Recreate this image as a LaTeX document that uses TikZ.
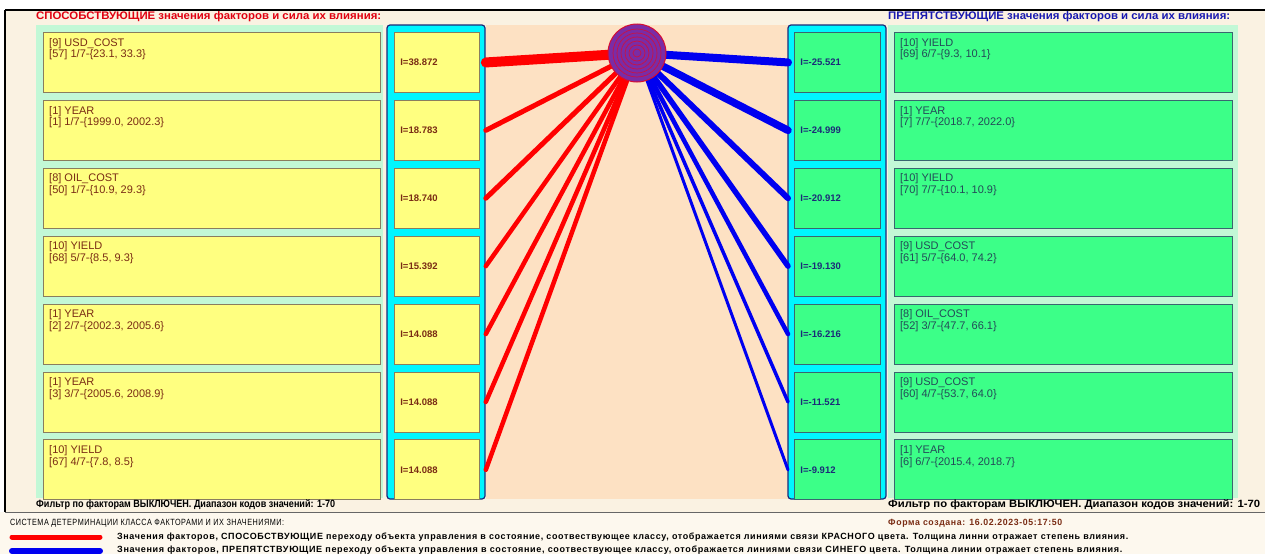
\documentclass[tikz,border=0pt]{standalone}
\usepackage{graphicx}
\usepackage{fontspec}
\setmainfont{Liberation Sans}
\newfontfamily\legfont[FakeStretch=0.85, LetterSpace=6]{Liberation Sans}
\usetikzlibrary{positioning}

\definecolor{creambg}{HTML}{FAF2E2}
\definecolor{footbg}{HTML}{FDF8EE}
\definecolor{mintbg}{HTML}{C2F8D6}
\definecolor{peachbg}{HTML}{FDE1C3}
\definecolor{cyanbox}{HTML}{00F6FF}
\definecolor{navyline}{HTML}{1C2A78}
\definecolor{yelbox}{HTML}{FFFF80}
\definecolor{grnbox}{HTML}{3CFF88}
\definecolor{yelline}{HTML}{8A7D5E}
\definecolor{grnline}{HTML}{3A6670}
\definecolor{maroontxt}{HTML}{7A2C14}
\definecolor{tealtxt}{HTML}{244A58}
\definecolor{linkred}{HTML}{FF0000}
\definecolor{linkblue}{HTML}{0000F0}
\definecolor{hdrred}{HTML}{E00010}
\definecolor{hdrblue}{HTML}{1818B0}
\definecolor{clspurple}{HTML}{7A2CA6}

% stretch a text to a given width, height kept
\newcommand{\fitw}[2]{\resizebox{#1}{\height}{#2}}

\tikzset{
  fac/.style={rectangle, draw, line width=0.9pt, minimum width=337pt,
              minimum height=60pt, inner sep=0pt},
  facY/.style={fac, fill=yelbox, draw=yelline},
  facG/.style={fac, fill=grnbox, draw=grnline, minimum width=338pt},
  ftxt/.style={anchor=north west, align=left, inner sep=0pt, xshift=6pt,
               yshift=-6pt, font=\fontsize{11}{11.5}\selectfont},
  ftxtY/.style={ftxt, text=maroontxt},
  ftxtG/.style={ftxt, text=tealtxt},
  val/.style={rectangle, draw, line width=0.9pt, minimum height=60pt,
              text width=73pt, inner xsep=6pt, align=left,
              font=\fontsize{9.5}{10}\selectfont\bfseries},
  valY/.style={val, fill=yelbox, draw=yelline, text=maroontxt},
  valG/.style={val, fill=grnbox, draw=grnline, text=navyline, text width=74pt},
  panel/.style={fill=cyanbox, draw=navyline, line width=1.2pt, rounded corners=3pt},
  redlink/.style={draw=linkred, line cap=round},
  bluelink/.style={draw=linkblue, line cap=round},
  hdr/.style={anchor=west, inner sep=0pt, font=\fontsize{11}{12}\selectfont\bfseries},
  filt/.style={anchor=west, inner sep=0pt, font=\fontsize{10.5}{12}\selectfont\bfseries},
  legtxt/.style={anchor=west, inner sep=0pt, font=\legfont\fontsize{9}{10}\selectfont\bfseries},
}

\begin{document}
\begin{tikzpicture}[x=1pt, y=-1pt]
  \useasboundingbox (0,0) rectangle (1265,554);

  % window background
  \fill[white] (0,0) rectangle (1265,554);
  \fill[creambg] (5,10) rectangle (1265,512);
  \fill[footbg] (0,512) rectangle (1265,554);
  \draw[line width=2pt] (5,10) -- (1265,10);
  \draw[line width=2pt] (5,10) -- (5,512);
  \draw[black!60, line width=1.2pt] (5,512.5) -- (1265,512.5);

  % panels
  \fill[mintbg] (36,25) rectangle (383,498);
  \fill[mintbg] (888,25) rectangle (1238,498);
  \fill[peachbg] (486,25) rectangle (788,499);
  \draw[panel] (387,25) rectangle (485,499);
  \draw[panel] (788,25) rectangle (886,499);

  \node[hdr, text=hdrred] (hdrL) at (36,17)
    {\fitw{345pt}{СПОСОБСТВУЮЩИЕ значения факторов и сила их влияния:}};
  \node[hdr, text=hdrblue] (hdrR) at (888,17)
    {\fitw{342pt}{ПРЕПЯТСТВУЮЩИЕ значения факторов и сила их влияния:}};

  % promoting values
  \node[facY, anchor=north west] (L1) at (43,32) {};
  \node[facY, below=7pt of L1] (L2) {};
  \node[facY, below=7pt of L2] (L3) {};
  \node[facY, below=7pt of L3] (L4) {};
  \node[facY, below=7pt of L4] (L5) {};
  \node[facY, below=7pt of L5] (L6) {};
  \node[facY, below=7pt of L6] (L7) {};

  \node[ftxtY] at (L1.north west) {[9] USD\_COST\\{}[57] 1/7-\{23.1, 33.3\}};
  \node[ftxtY] at (L2.north west) {[1] YEAR\\{}[1] 1/7-\{1999.0, 2002.3\}};
  \node[ftxtY] at (L3.north west) {[8] OIL\_COST\\{}[50] 1/7-\{10.9, 29.3\}};
  \node[ftxtY] at (L4.north west) {[10] YIELD\\{}[68] 5/7-\{8.5, 9.3\}};
  \node[ftxtY] at (L5.north west) {[1] YEAR\\{}[2] 2/7-\{2002.3, 2005.6\}};
  \node[ftxtY] at (L6.north west) {[1] YEAR\\{}[3] 3/7-\{2005.6, 2008.9\}};
  \node[ftxtY] at (L7.north west) {[10] YIELD\\{}[67] 4/7-\{7.8, 8.5\}};

  \node[valY, right=13pt of L1] (lv1) {I=38.872};
  \node[valY, right=13pt of L2] (lv2) {I=18.783};
  \node[valY, right=13pt of L3] (lv3) {I=18.740};
  \node[valY, right=13pt of L4] (lv4) {I=15.392};
  \node[valY, right=13pt of L5] (lv5) {I=14.088};
  \node[valY, right=13pt of L6] (lv6) {I=14.088};
  \node[valY, right=13pt of L7] (lv7) {I=14.088};

  % hindering values
  \node[valG, anchor=north west] (rv1) at (794,32) {I=-25.521};
  \node[valG, below=7pt of rv1] (rv2) {I=-24.999};
  \node[valG, below=7pt of rv2] (rv3) {I=-20.912};
  \node[valG, below=7pt of rv3] (rv4) {I=-19.130};
  \node[valG, below=7pt of rv4] (rv5) {I=-16.216};
  \node[valG, below=7pt of rv5] (rv6) {I=-11.521};
  \node[valG, below=7pt of rv6] (rv7) {I=-9.912};

  \node[facG, right=13pt of rv1] (R1) {};
  \node[facG, right=13pt of rv2] (R2) {};
  \node[facG, right=13pt of rv3] (R3) {};
  \node[facG, right=13pt of rv4] (R4) {};
  \node[facG, right=13pt of rv5] (R5) {};
  \node[facG, right=13pt of rv6] (R6) {};
  \node[facG, right=13pt of rv7] (R7) {};

  \node[ftxtG] at (R1.north west) {[10] YIELD\\{}[69] 6/7-\{9.3, 10.1\}};
  \node[ftxtG] at (R2.north west) {[1] YEAR\\{}[7] 7/7-\{2018.7, 2022.0\}};
  \node[ftxtG] at (R3.north west) {[10] YIELD\\{}[70] 7/7-\{10.1, 10.9\}};
  \node[ftxtG] at (R4.north west) {[9] USD\_COST\\{}[61] 5/7-\{64.0, 74.2\}};
  \node[ftxtG] at (R5.north west) {[8] OIL\_COST\\{}[52] 3/7-\{47.7, 66.1\}};
  \node[ftxtG] at (R6.north west) {[9] USD\_COST\\{}[60] 4/7-\{53.7, 64.0\}};
  \node[ftxtG] at (R7.north west) {[1] YEAR\\{}[6] 6/7-\{2015.4, 2018.7\}};

  % class node and links
  \coordinate (cls) at (637,53);
  \draw[redlink, line width=10pt] (cls) -- ([xshift=6pt]lv1.east);
  \draw[redlink, line width=5pt] (cls) -- ([xshift=6pt]lv2.east);
  \draw[redlink, line width=5pt] (cls) -- ([xshift=6pt]lv3.east);
  \draw[redlink, line width=4.5pt] (cls) -- ([xshift=6pt]lv4.east);
  \draw[redlink, line width=4.5pt] (cls) -- ([xshift=6pt]lv5.east);
  \draw[redlink, line width=4.5pt] (cls) -- ([xshift=6pt]lv6.east);
  \draw[redlink, line width=4.5pt] (cls) -- ([xshift=6pt]lv7.east);

  \draw[bluelink, line width=8pt] (cls) -- ([xshift=-6pt]rv1.west);
  \draw[bluelink, line width=7.5pt] (cls) -- ([xshift=-6pt]rv2.west);
  \draw[bluelink, line width=6pt] (cls) -- ([xshift=-6pt]rv3.west);
  \draw[bluelink, line width=5.5pt] (cls) -- ([xshift=-6pt]rv4.west);
  \draw[bluelink, line width=4.5pt] (cls) -- ([xshift=-6pt]rv5.west);
  \draw[bluelink, line width=3.5pt] (cls) -- ([xshift=-6pt]rv6.west);
  \draw[bluelink, line width=3pt] (cls) -- ([xshift=-6pt]rv7.west);

  \node[circle, minimum size=58pt, inner sep=0pt, fill=clspurple,
        draw=linkred!70!clspurple, line width=1pt] (clsnode) at (cls) {};
  \foreach \r in {4,8,...,24}
    \draw[linkred!60!clspurple, line width=0.7pt] (cls) circle[radius=\r pt];

  % filters and legend
  \node[filt] (filtL) at (36,505)
    {\fitw{299pt}{Фильтр по факторам ВЫКЛЮЧЕН. Диапазон кодов значений: 1-70}};
  \node[filt] (filtR) at (888,505)
    {\fitw{372pt}{Фильтр по факторам ВЫКЛЮЧЕН. Диапазон кодов значений: 1-70}};

  \node[legtxt, font=\legfont\fontsize{9}{10}\selectfont] (sysT) at (10,523)
    {\fitw{274pt}{СИСТЕМА ДЕТЕРМИНАЦИИ КЛАССА ФАКТОРАМИ И ИХ ЗНАЧЕНИЯМИ:}};
  \node[legtxt, text=maroontxt] (formT) at (888,523)
    {\fitw{174pt}{Форма создана: 16.02.2023-05:17:50}};

  \coordinate (kr1) at (12,537);
  \coordinate (kr2) at (100,537);
  \coordinate (kb1) at (12,551);
  \coordinate (kb2) at (100,551);
  \draw[redlink, line width=5pt] (kr1) -- (kr2);
  \draw[bluelink, line width=6pt] (kb1) -- (kb2);
  \node[legtxt] (legR) at (117,537)
    {\fitw{1011pt}{Значения факторов, СПОСОБСТВУЮЩИЕ переходу объекта управления в состояние, соотвествующее классу, отображается линиями связи КРАСНОГО цвета. Толщина линни отражает степень влияния.}};
  \node[legtxt] (legB) at (117,550)
    {\fitw{1005pt}{Значения факторов, ПРЕПЯТСТВУЮЩИЕ переходу объекта управления в состояние, соотвествующее классу, отображается линиями связи СИНЕГО цвета. Толщина линии отражает степень влияния.}};
\end{tikzpicture}
\end{document}
